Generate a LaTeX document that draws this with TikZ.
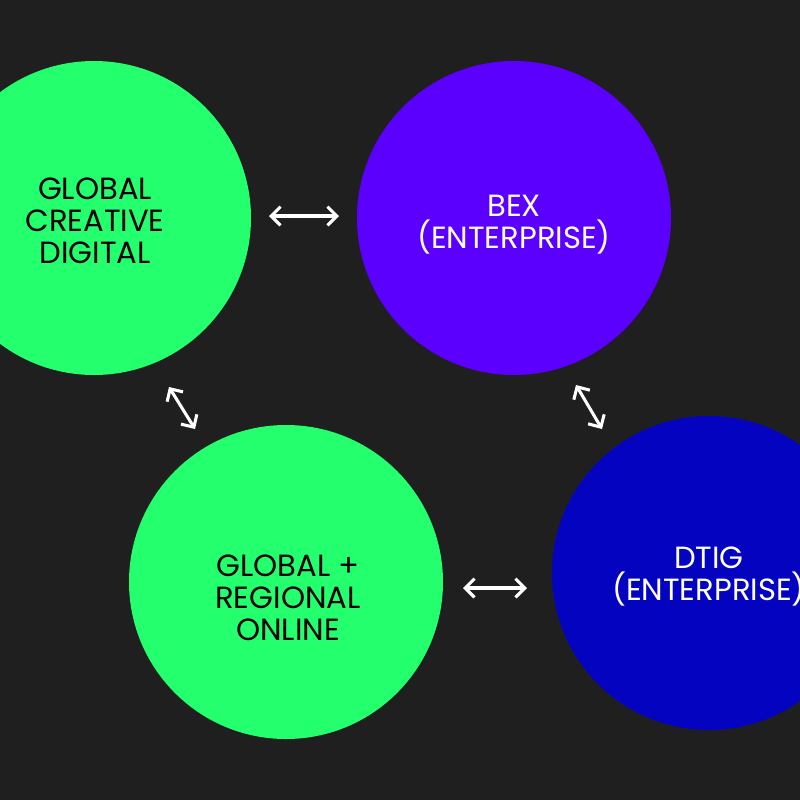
\documentclass[tikz,border=0pt]{standalone}
\usepackage{fontspec}
\setmainfont{Poppins}
\usetikzlibrary{arrows.meta}
\definecolor{bg}{HTML}{1F1F1F}
\definecolor{cgreen}{HTML}{24FF6E}
\definecolor{cpurple}{HTML}{5B00FF}
\definecolor{cblue}{HTML}{0404C0}
\tikzset{
  circ/.style={circle, minimum size=235.5pt, inner sep=0pt, draw=none},
  lbl/.style={align=center, font=\fontsize{23}{24}\selectfont},
  dblarrow/.style={draw=white, line width=2.3pt, {Straight Barb[length=7pt,width=14pt,line width=2.3pt]}-{Straight Barb[length=7pt,width=14pt,line width=2.3pt]}}
}
\begin{document}
\begin{tikzpicture}[x=0.75pt,y=-0.75pt]
\fill[bg] (0,0) rectangle (800,800);
\useasboundingbox (0,0) rectangle (800,800);
\begin{scope}
\clip (0,0) rectangle (800,800);
\node[circ, fill=cgreen] (gcd) at (94,218) {};
\node[circ, fill=cpurple] (bex) at (514,218) {};
\node[circ, fill=cgreen] (gro) at (286,582) {};
\node[circ, fill=cblue] (dtig) at (709,573) {};
\node[lbl, text=black] (t1) at (95,221) {GLOBAL\\CREATIVE\\DIGITAL};
\node[lbl, text=white] (t2) at (514,225) {BEX\\(ENTERPRISE)};
\node[lbl, text=black] (t3) at (288,598) {GLOBAL +\\REGIONAL\\ONLINE};
\node[lbl, text=white] (t4) at (709,577) {DTIG\\(ENTERPRISE)};
\end{scope}
\coordinate (a1s) at (269,216);
\coordinate (a1e) at (339,216);
\coordinate (a2s) at (463,588);
\coordinate (a2e) at (527,588);
\coordinate (a3s) at (169,387);
\coordinate (a3e) at (195,429);
\coordinate (a4s) at (576,385);
\coordinate (a4e) at (602,429);
\draw[dblarrow] (a1s) -- (a1e);
\draw[dblarrow] (a2s) -- (a2e);
\draw[dblarrow] (a3s) -- (a3e);
\draw[dblarrow] (a4s) -- (a4e);
\end{tikzpicture}
\end{document}
